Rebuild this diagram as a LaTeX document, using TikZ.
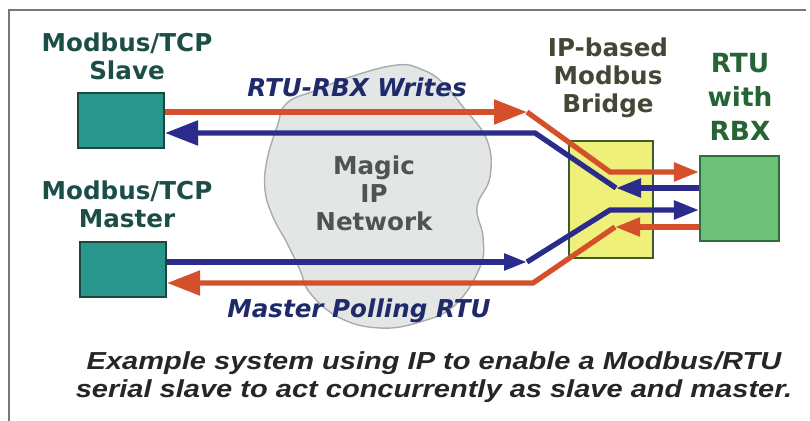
\documentclass[tikz,border=0pt]{standalone}
\usepackage{fontspec}
\setmainfont{DejaVu Sans}
\newfontfamily\capfont[FakeStretch=1.18]{Liberation Sans}
\usetikzlibrary{arrows.meta}

\definecolor{tealbox}{RGB}{40,150,140}
\definecolor{tealedge}{RGB}{30,70,62}
\definecolor{bridgefill}{RGB}{238,240,122}
\definecolor{bridgeedge}{RGB}{58,90,48}
\definecolor{rtufill}{RGB}{108,192,119}
\definecolor{rtuedge}{RGB}{46,110,62}
\definecolor{pipered}{RGB}{212,80,42}
\definecolor{pipeblue}{RGB}{43,43,140}
\definecolor{labteal}{RGB}{28,78,72}
\definecolor{labgreen}{RGB}{38,100,54}
\definecolor{labgrey}{RGB}{70,70,54}
\definecolor{navy}{RGB}{31,42,106}
\definecolor{cloudfill}{RGB}{228,230,230}
\definecolor{cloudedge}{RGB}{168,172,172}
\definecolor{cloudtext}{RGB}{76,84,84}
\definecolor{framec}{RGB}{120,120,120}

\begin{document}
\begin{tikzpicture}[x=0.02cm, y=-0.02cm, thick,
		devbox/.style={draw=tealedge, line width=1.2pt, fill=tealbox, inner sep=0pt,
			minimum width=1.72cm, minimum height=1.1cm},
		bridgebox/.style={draw=bridgeedge, line width=1.2pt, fill=bridgefill, inner sep=0pt,
			minimum width=1.68cm, minimum height=2.34cm},
		rtubox/.style={draw=rtuedge, line width=1.2pt, fill=rtufill, inner sep=0pt,
			minimum width=1.58cm, minimum height=1.7cm},
		lbl/.style={align=center, font=\fontsize{14}{16}\selectfont\bfseries},
		flowlbl/.style={font=\fontsize{14}{16}\selectfont\bfseries\itshape, text=navy},
		redpipe/.style={draw=pipered, line width=3pt},
		bluepipe/.style={draw=pipeblue, line width=3pt},
		bigtip/.tip={Triangle[length=0.66cm, width=0.48cm]},
		midtip/.tip={Triangle[length=0.46cm, width=0.32cm]},
		smalltip/.tip={Triangle[length=0.5cm, width=0.36cm]}]
		
		\useasboundingbox (0,0) rectangle (810,421);
		\draw[framec, line width=0.8pt] (806,10) -- (9,10) -- (9,421);
		
		% the network cloud
		\draw[cloudedge, fill=cloudfill, line width=0.8pt] plot[smooth cycle, tension=0.7] coordinates {
			(397,65) (423,70) (443,83) (463,107) (487,140) (490,177) (477,207)
			(483,237) (480,267) (455,305) (420,322) (380,328) (340,318) (310,293)
			(300,270) (287,243) (273,217) (265,190) (267,160) (277,127) (287,103)
			(317,90) (350,77)};
		\node[lbl, text=cloudtext] (cloudlbl) at (374,193) {Magic\\IP\\Network};
		
		\node[devbox] (slave) at (121,120.5) {};
		\node[devbox] (master) at (123,269.5) {};
		\node[bridgebox] (bridge) at (611,199.5) {};
		\node[rtubox] (rtu) at (739.5,198.5) {};
		
		\node[lbl, text=labteal] (slavelbl) at (127,56) {Modbus/TCP\\Slave};
		\node[lbl, text=labteal] (masterlbl) at (127,204) {Modbus/TCP\\Master};
		\node[lbl, text=labgrey] (bridgelbl) at (608,78) {IP-based\\Modbus\\Bridge};
		\node[lbl, font=\fontsize{15}{19.3}\selectfont\bfseries, text=labgreen] (rtulbl) at (740,97) {RTU\\with\\RBX};
		
		% writes from the RTU side
		\coordinate (wtip) at (527,112);
		\coordinate (wbend) at (610,172);
		\draw[redpipe, -{bigtip}] (slave.east |- wtip) -- (wtip);
		\draw[redpipe, -{smalltip}] (wtip) -- (wbend) -- (rtu.west |- wbend);
		
		\coordinate (rtip) at (616,188);
		\coordinate (rbend) at (535,133);
		\draw[bluepipe, -{smalltip}] (rtu.west |- rtip) -- (rtip);
		\draw[bluepipe, -{bigtip}] (rtip) -- (rbend) -- (slave.east |- rbend);
		
		% polling from the master
		\coordinate (ptip) at (527,262);
		\coordinate (pbend) at (610,210);
		\draw[bluepipe, -{midtip}] (master.east |- ptip) -- (ptip);
		\draw[bluepipe, -{smalltip}] (ptip) -- (pbend) -- (rtu.west |- pbend);
		
		\coordinate (atip) at (615,227);
		\coordinate (abend) at (533,283);
		\draw[redpipe, -{smalltip}] (rtu.west |- atip) -- (atip);
		\draw[redpipe, -{bigtip}] (atip) -- (abend) -- (master.east |- abend);
		
		\node[flowlbl, anchor=base] (writes) at (357,97) {RTU-RBX Writes};
		\node[flowlbl, anchor=base] (polling) at (359,318) {Master Polling RTU};
		
		\node[align=center, text=black!85, font=\capfont\fontsize{14}{16.3}\selectfont\bfseries\itshape] (caption) at (434,377)
		{Example system using IP to enable a Modbus/RTU\\serial slave to act concurrently as slave and master.};
\end{tikzpicture}
\end{document}
